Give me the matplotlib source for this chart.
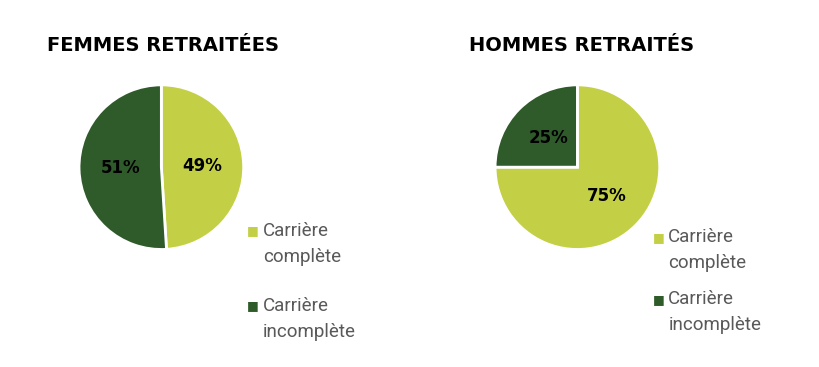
import numpy as np
import matplotlib.pyplot as plt

titles = ["FEMMES RETRAITÉES", "HOMMES RETRAITÉS"]
labels = ["Carrière\ncomplète", "Carrière\nincomplète"]
femmes = [49, 51]
hommes = [75, 25]
colors = ["#C3CF45", "#2F5A2A"]

fig = plt.figure(figsize=(8.19, 3.67), dpi=100)
fig.patch.set_facecolor("white")

# pie axes: [left, bottom, width, height]
boxes = [[0.0955, 0.316, 0.203, 0.457], [0.6035, 0.316, 0.203, 0.457]]
title_pos = [(0.057, 0.875), (0.573, 0.875)]
leg_pos = [(0.302, 0.371), (0.797, 0.354)]
leg_gap = [0.204, 0.169]

for vals, box, title, tp, lp, gap in zip([femmes, hommes], boxes, titles, title_pos, leg_pos, leg_gap):
    ax = fig.add_axes(box)
    wedges, texts = ax.pie(vals, colors=colors, startangle=90, counterclock=False,
                           wedgeprops=dict(edgecolor="white", linewidth=2))
    for w, v in zip(wedges, vals):
        ang = np.deg2rad((w.theta1 + w.theta2) / 2)
        r = 0.5
        ax.text(r * np.cos(ang), r * np.sin(ang), f"{v}%", ha="center", va="center",
                fontsize=12, fontweight="heavy", family="DejaVu Sans", color="black")
    ax.set_xlim(-1.01, 1.01)
    ax.set_ylim(-1.01, 1.01)
    ax.set_aspect("equal")
    fig.text(tp[0], tp[1], title, fontsize=14, fontweight="heavy", family="DejaVu Sans",
             color="black", va="center", ha="left")
    # legend
    for i, (lab, col) in enumerate(zip(labels, colors)):
        y = lp[1] - i * gap
        fig.text(lp[0], y, "■", color=col, fontsize=9, va="center", ha="left",
                 family="DejaVu Sans")
        fig.text(lp[0] + 0.019, y + 0.024, lab, color="#595959", fontsize=13.5,
                 va="top", ha="left", family="Roboto", linespacing=1.55)
fig.savefig("out.png", dpi=100)
